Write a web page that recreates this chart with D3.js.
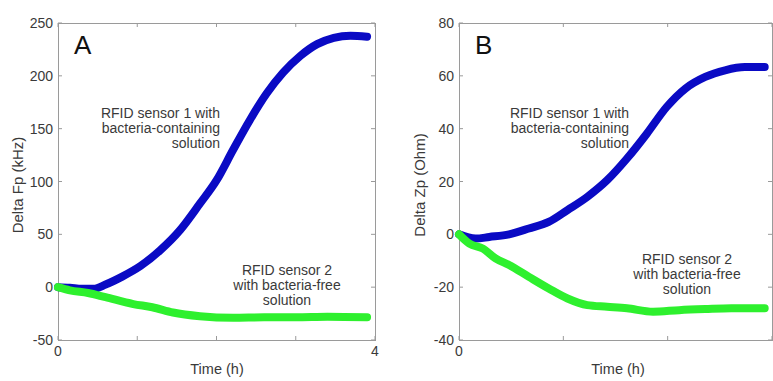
<!DOCTYPE html>
<html>
<head>
<meta charset="utf-8">
<script src="https://cdn.jsdelivr.net/npm/d3@7"></script>
<style>
  body { margin: 0; background: #fff; }
  svg text { font-family: Arial, "Liberation Sans", sans-serif; fill: #3a3a3a; }
</style>
</head>
<body>
<svg id="chart" width="773" height="381"></svg>
<script>
// Panel A: Delta Fp (kHz) vs time (h)
const timeA    = [0, 0.15, 0.3, 0.45, 0.6, 0.81, 1.04, 1.29, 1.54, 1.79, 2.0, 2.21, 2.42, 2.63, 2.84, 3.06, 3.27, 3.48, 3.69, 3.9];
const sensor1A = [0, -0.5, -1.5, -1.5, 2.5, 10, 20, 35, 54, 79, 101, 130, 158, 183, 203, 219, 230, 236, 238, 237];
const timeA2   = [0, 0.15, 0.38, 0.6, 0.95, 1.19, 1.45, 1.79, 2.21, 2.6, 3.0, 3.4, 3.9];
const sensor2A = [0, -3, -5.5, -9.5, -16, -19, -24, -27.5, -29, -28.5, -28.5, -28, -28.5];

// Panel B: Delta Zp (Ohm) vs time (h)
const timeB    = [0, 0.16, 0.29, 0.48, 0.67, 0.86, 1.04, 1.23, 1.42, 1.61, 1.8, 1.99, 2.17, 2.36, 2.55, 2.74, 2.93];
const sensor1B = [0, -1.6, -1.0, 0, 2.2, 4.7, 9.2, 14.2, 20.5, 28.7, 38.1, 48.2, 55.2, 59.6, 62.1, 63.3, 63.3];
const timeB2   = [0, 0.1, 0.23, 0.35, 0.48, 0.67, 0.86, 1.04, 1.23, 1.42, 1.61, 1.86, 2.11, 2.36, 2.61, 2.93];
const sensor2B = [0, -3.5, -5.4, -9.1, -11.6, -16.1, -20.5, -24.3, -26.8, -27.4, -28.0, -29.3, -28.7, -28.3, -28.0, -28.0];

const yTicksA = [-50, 0, 50, 100, 150, 200, 250];
const yTicksB = [-40, -20, 0, 20, 40, 60, 80];

const blue  = "#0a0ac4";
const green = "#2ef02e";

const svg = d3.select("#chart");

const panels = [
  { left: 58, right: 375, xMax: 4, xLabels: [0, 4], yDom: [-50, 250], yTicks: yTicksA,
    letter: "A", yTitle: "Delta Fp (kHz)", titleX: 18, timeX: 217,
    s1: { t: timeA, v: sensor1A }, s2: { t: timeA2, v: sensor2A },
    note1X: 220, note2X: 287, note2Y: 275 },
  { left: 459, right: 772, xMax: 3, xLabels: [0], yDom: [-40, 80], yTicks: yTicksB,
    letter: "B", yTitle: "Delta Zp (Ohm)", titleX: 420, timeX: 618,
    s1: { t: timeB, v: sensor1B }, s2: { t: timeB2, v: sensor2B },
    note1X: 629, note2X: 687, note2Y: 264 }
];

const plotTop = 23, plotBottom = 340;
const lineGap = 15;

panels.forEach(p => {
  const x = d3.scaleLinear().domain([0, p.xMax]).range([p.left, p.right]);
  const y = d3.scaleLinear().domain(p.yDom).range([plotBottom, plotTop]);
  const g = svg.append("g");

  // frame
  g.append("rect")
    .attr("x", p.left + 0.5).attr("y", plotTop + 0.5)
    .attr("width", p.right - p.left).attr("height", plotBottom - plotTop)
    .attr("fill", "none").attr("stroke", "#9a9a9a").attr("stroke-width", 1);

  // inward ticks on all four sides
  const xt = d3.range(0, p.xMax + 1);
  g.selectAll(".xtb").data(xt).join("line")
    .attr("x1", d => x(d)).attr("x2", d => x(d))
    .attr("y1", plotBottom).attr("y2", plotBottom - 4)
    .attr("stroke", "#9a9a9a");
  g.selectAll(".xtt").data(xt).join("line")
    .attr("x1", d => x(d)).attr("x2", d => x(d))
    .attr("y1", plotTop).attr("y2", plotTop + 4)
    .attr("stroke", "#9a9a9a");
  g.selectAll(".ytl").data(p.yTicks).join("line")
    .attr("x1", p.left).attr("x2", p.left + 4)
    .attr("y1", d => y(d)).attr("y2", d => y(d))
    .attr("stroke", "#9a9a9a");
  g.selectAll(".ytr").data(p.yTicks).join("line")
    .attr("x1", p.right).attr("x2", p.right - 4)
    .attr("y1", d => y(d)).attr("y2", d => y(d))
    .attr("stroke", "#9a9a9a");

  // tick labels
  g.selectAll(".ylab").data(p.yTicks).join("text")
    .attr("x", p.left - 5).attr("y", d => y(d) + 5)
    .attr("text-anchor", "end").attr("font-size", 14)
    .text(d => d);
  g.selectAll(".xlab").data(p.xLabels).join("text")
    .attr("x", d => x(d)).attr("y", 356)
    .attr("text-anchor", "middle").attr("font-size", 14)
    .text(d => d);

  // axis titles
  g.append("text")
    .attr("x", p.timeX).attr("y", 374)
    .attr("text-anchor", "middle").attr("font-size", 14.5)
    .text("Time (h)");
  g.append("text")
    .attr("transform", `translate(${p.titleX},185) rotate(-90)`)
    .attr("text-anchor", "middle").attr("dy", "0.35em").attr("font-size", 15)
    .text(p.yTitle);

  // panel letter
  g.append("text")
    .attr("x", p.left + 16).attr("y", 54)
    .attr("font-size", 26).style("fill", "#111")
    .text(p.letter);

  // series (green drawn over blue)
  const line = d3.line()
    .x(d => x(d.t)).y(d => y(d.v))
    .curve(d3.curveMonotoneX);
  [[p.s1, blue], [p.s2, green]].forEach(([s, c]) => {
    const pts = s.t.map((t, i) => ({ t, v: s.v[i] }));
    g.append("path")
      .datum(pts)
      .attr("d", line)
      .attr("fill", "none").attr("stroke", c)
      .attr("stroke-width", 8).attr("stroke-linecap", "round")
      .attr("stroke-linejoin", "round");
  });

  // annotations
  const n1 = ["RFID sensor 1 with", "bacteria-containing", "solution"];
  g.selectAll(".n1").data(n1).join("text")
    .attr("x", p.note1X).attr("y", (d, i) => 118 + i * lineGap)
    .attr("text-anchor", "end").attr("font-size", 14)
    .text(d => d);
  const n2 = ["RFID sensor 2", "with bacteria-free", "solution"];
  g.selectAll(".n2").data(n2).join("text")
    .attr("x", p.note2X).attr("y", (d, i) => p.note2Y + i * lineGap)
    .attr("text-anchor", "middle").attr("font-size", 14)
    .text(d => d);
});
</script>
</body>
</html>
